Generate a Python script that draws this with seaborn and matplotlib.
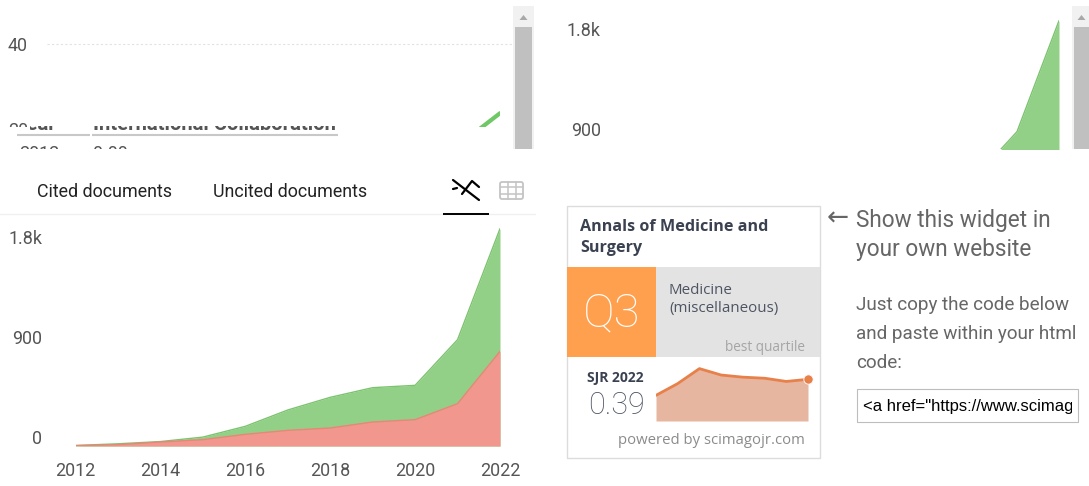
import matplotlib
matplotlib.use("Agg")
import matplotlib.pyplot as plt
from matplotlib.patches import Rectangle, FancyBboxPatch, Polygon
from matplotlib.transforms import Bbox, ScaledTranslation
import pandas as pd
import seaborn as sns

years = [2012, 2013, 2014, 2015, 2016, 2017, 2018, 2019, 2020, 2021, 2022]
all_docs = [5, 20, 40, 80, 177, 324, 438, 525, 546, 957, 1956]
lower_docs = [3, 12, 36, 57, 105, 141, 162, 216, 237, 381, 852]
collab_years = [2021, 2022]
collab_values = [14.5, 22.7]
sjr_years = [2015, 2016, 2017, 2018, 2019, 2020, 2021, 2022]
sjr_values = [0.24, 0.35, 0.49, 0.43, 0.41, 0.40, 0.37, 0.39]
doc_ticks = [0, 900, 1800]
doc_tick_labels = ["0", "900", "1.8k"]
year_ticks = [2012, 2014, 2016, 2018, 2020, 2022]

GREEN = "#93d087"
GREEN_LINE = "#7cc36f"
RED = "#f1978d"
RED_LINE = "#ee8377"
TEXT = "#555555"
TICK_SIZE = 12.9
W, H = 1089, 486

sns.set_theme(style="white")
plt.rcParams["font.family"] = ["Roboto", "DejaVu Sans"]

fig = plt.figure(figsize=(W / 100, H / 100), dpi=100, facecolor="white")


def px_axes(x0, y0, x1, y1, z=2):
    a = fig.add_axes([x0 / W, 1 - y1 / H, (x1 - x0) / W, (y1 - y0) / H], zorder=z)
    a.patch.set_alpha(0)
    sns.despine(ax=a, left=True, bottom=True, right=True, top=True)
    return a


def docs_panel(ax, pad_px, show_lower=True):
    # areas are overlaid, not stacked
    df = pd.DataFrame({"year": years, "all": all_docs, "lower": lower_docs})
    ax.fill_between(df["year"], df["all"], 0, color=GREEN, lw=0)
    sns.lineplot(data=df, x="year", y="all", ax=ax, color=GREEN_LINE, lw=1)
    if show_lower:
        ax.fill_between(df["year"], df["lower"], 0, color=RED, lw=0)
        sns.lineplot(data=df, x="year", y="lower", ax=ax, color=RED_LINE, lw=1)
    ax.set_xlabel("")
    ax.set_ylabel("")
    ax.set_xlim(2012, 2022)
    ax.set_yticks(doc_ticks, doc_tick_labels)
    ax.tick_params(axis="y", length=0, pad=pad_px * 0.72, labelsize=TICK_SIZE, labelcolor=TEXT)
    # the y labels sit above their value
    shift = ScaledTranslation(0, 9 / 100, fig.dpi_scale_trans)
    for lab in ax.get_yticklabels():
        lab.set_transform(lab.get_transform() + shift)


def clip_text(x, y, s, box, **kw):
    # box is x0, y0, x1, y1 in picture pixels, y down
    t = pg.text(x, y, s, **kw)
    t.set_clip_box(Bbox([[box[0], H - box[3]], [box[2], H - box[1]]]))
    t.set_clip_on(True)
    return t


# main chart, 100px per 900 docs
ax = px_axes(75.5, 215, 500, 446)
docs_panel(ax, 33.5)
ax.set_ylim(0, 231 * 9)
ax.set_xticks(year_ticks, [str(y) for y in year_ticks])
ax.tick_params(axis="x", length=0, pad=11.8, labelsize=TICK_SIZE, labelcolor=TEXT)

# top right chart, cut off by the frame
ax2 = px_axes(639, 0, 1059, 149)
docs_panel(ax2, 38, show_lower=False)
ax2.set_ylim((238 - 149) * 9, 238 * 9)
ax2.set_xticks([])

# top left chart, only the tip of the line shows
ax3 = px_axes(75.5, 0, 500, 127)
collab = pd.DataFrame({"year": collab_years, "value": collab_values})
sns.lineplot(data=collab, x="year", y="value", ax=ax3, color="#70c765", lw=3)
ax3.set_xlim(2012, 2022)
ax3.set_ylim(40 - 83 / 4, 40 + 11)
ax3.set_xlabel("")
ax3.set_ylabel("")
ax3.set_xticks([])
ax3.set_yticks([40], ["40"])
ax3.tick_params(axis="y", length=0, pad=47.5 * 0.72, labelsize=TICK_SIZE, labelcolor=TEXT)

# page furniture in pixel coordinates
pg = px_axes(0, 0, W, H, z=3)
pg.set_xlim(0, W)
pg.set_ylim(H, 0)
pg.set_xticks([])
pg.set_yticks([])
pg.set_xlabel("")
pg.set_ylabel("")

pg.plot([47, 512], [44, 44], color="#e2e2e2", lw=0.8, ls=(0, (2, 2)))

# clipped tick label and table under the first chart
clip_text(8, 136, "20", (0, 122, 30, 127), fontsize=TICK_SIZE, color=TEXT, va="baseline")
clip_text(57, 130, "Year", (30, 126, 90, 133), fontsize=14.6, fontweight="bold", color="#555555",
          va="baseline", ha="right")
clip_text(93, 130, "International Collaboration", (90, 126, 400, 133), fontsize=14.6, fontweight="bold",
          color="#555555", va="baseline")
clip_text(19, 158.5, "2012", (0, 145, 90, 149), fontsize=TICK_SIZE, color=TEXT, va="baseline")
clip_text(93, 158.5, "0.00", (90, 145, 400, 149), fontsize=TICK_SIZE, color=TEXT, va="baseline")
pg.plot([17, 90], [135.5, 135.5], color="#c8c8c8", lw=1.5, solid_capstyle="butt")
pg.plot([92, 338], [135.5, 135.5], color="#c8c8c8", lw=1.5, solid_capstyle="butt")

# scrollbars
for sx0, sx1, tx0, tx1 in [(513, 534, 515, 532), (1072, 1089, 1074, 1089)]:
    pg.add_patch(Rectangle((sx0, 6), sx1 - sx0, 143, color="#f1f1f1", lw=0))
    pg.add_patch(Rectangle((tx0, 27), tx1 - tx0, 122, color="#c0c0c0", lw=0))
    mid = (tx0 + tx1) / 2
    pg.add_patch(Polygon([[mid - 4, 20], [mid + 4, 20], [mid, 15]], color="#a8a8a8", lw=0))

# tabs
pg.text(37, 192, "Cited documents", fontsize=TICK_SIZE, color="#222222", va="center")
pg.text(213, 192, "Uncited documents", fontsize=TICK_SIZE, color="#222222", va="center")
pg.plot([0, 535], [213.5, 213.5], color="#f0f0f0", lw=1)
pg.plot([443, 489], [213.5, 213.5], color="black", lw=1.4, solid_capstyle="butt")
pg.plot([453, 479], [180, 200], color="black", lw=1.6)
pg.plot([453, 457], [189, 188], color="black", lw=1.6)
pg.plot([462, 472, 479], [194, 181, 187], color="black", lw=1.6)
pg.add_patch(FancyBboxPatch((500, 182), 23, 17, boxstyle="round,pad=0,rounding_size=2",
                            fc="none", ec="#c4c4c4", lw=1.3))
for gx in (507.5, 515.5):
    pg.plot([gx, gx], [182, 199], color="#c4c4c4", lw=1.1)
for gy in (187.5, 193.5):
    pg.plot([500, 523], [gy, gy], color="#c4c4c4", lw=1.1)

# widget card
pg.add_patch(Rectangle((567, 205.5), 253, 252, fc="white", ec="#dcdcdc", lw=1))
pg.add_patch(Rectangle((567, 267), 89, 90, color="#ffa04f", lw=0))
pg.add_patch(Rectangle((656, 267), 164, 90, color="#e3e3e3", lw=0))
card = ["Open Sans", "DejaVu Sans"]
thin = ["Roboto", "DejaVu Sans"]
pg.text(580, 227, "Annals of Medicine and", fontsize=11.6, fontweight="bold", color="#3a4150",
        family=card, va="center")
pg.text(580, 248, "Surgery", fontsize=11.6, fontweight="bold", color="#3a4150", family=card, va="center")
pg.text(612, 313, "Q3", fontsize=34, color="white", family=thin, fontweight="light",
        ha="center", va="center")
pg.text(669, 290, "Medicine", fontsize=10.9, color="#4d5462", family=card, va="center")
pg.text(669, 308, "(miscellaneous)", fontsize=10.9, color="#4d5462", family=card, va="center")
pg.text(805, 347, "best quartile", fontsize=9.85, color="#a5a5a5", family=card, ha="right", va="center")
pg.text(615, 378, "SJR 2022", fontsize=10, fontweight="bold", color="#3a4150", family=card,
        ha="center", va="center")
pg.text(617, 405, "0.39", fontsize=22, color="#4a5160", family=thin, fontweight="light",
        ha="center", va="center")
pg.text(805, 440, "powered by scimagojr.com", fontsize=10.7, color="#8b8b8b", family=card,
        ha="right", va="center")

# right hand text
pg.text(827, 219, "←", fontsize=19, color="#666666", va="center")
pg.text(856, 220, "Show this widget in", fontsize=16.3, color="#666666", va="center")
pg.text(856, 249, "your own website", fontsize=16.3, color="#666666", va="center")
for s, y in [("Just copy the code below", 305), ("and paste within your html", 334), ("code:", 363)]:
    pg.text(856, y, s, fontsize=13.6, color="#666666", va="center")
pg.add_patch(Rectangle((856.5, 388.5), 221, 33, fc="white", ec="#bdbdbd", lw=0.8))
clip_text(863, 406, '<a href="https://www.scimagojr.com', (858, 389, 1072, 421), fontsize=12, color="black",
          family=["Liberation Sans"], va="center")

# sparkline in the card
ax4 = px_axes(656, 365, 808, 421, z=4)
sjr = pd.DataFrame({"year": sjr_years, "sjr": sjr_values})
ax4.fill_between(sjr["year"], sjr["sjr"], 0, color="#e6b6a0", lw=0)
sns.lineplot(data=sjr, x="year", y="sjr", ax=ax4, color="#e8804a", lw=2)
ax4.scatter(sjr_years[-1:], sjr_values[-1:], s=45, color="#e8804a", edgecolor="white", lw=0.6,
            zorder=5, clip_on=False)
ax4.set_xlim(sjr_years[0], sjr_years[-1])
ax4.set_ylim(0, 56 / 41.7 * 0.39)
ax4.set_xlabel("")
ax4.set_ylabel("")
ax4.set_xticks([])
ax4.set_yticks([])

fig.savefig("out.png", dpi=100)
